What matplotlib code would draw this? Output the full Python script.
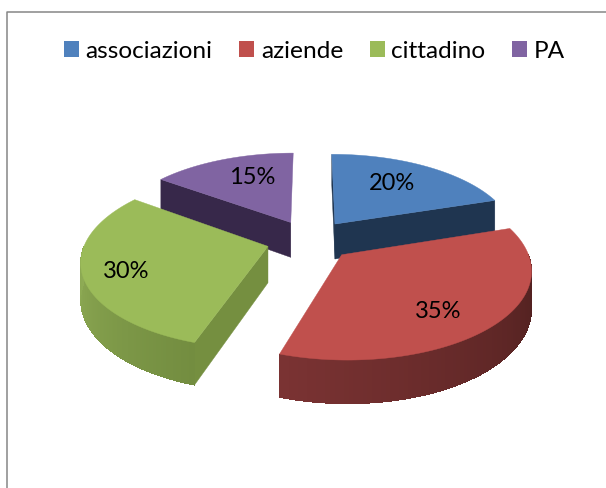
import numpy as np
import matplotlib
matplotlib.use("Agg")
import matplotlib.pyplot as plt
from matplotlib.patches import Patch
from matplotlib.colors import to_rgb

categorie = ["associazioni", "aziende", "cittadino", "PA"]
valori = [20, 35, 30, 15]
etichette = ["20%", "35%", "30%", "15%"]

col_top = ["#4f81bd", "#c0504d", "#9bbb59", "#8064a2"]
col_cut = ["#1f3550", "#4e1f1e", "#758f40", "#37284a"]
col_side_a = ["#1f3550", "#4d1f1e", "#738d40", "#37284a"]  # inizio fetta
col_side_b = ["#1f3550", "#7b3333", "#8fac55", "#37284a"]  # fine fetta
cut_start = [True, False, True, True]
cut_end = [True, False, False, False]
pos_label = [(392, 183), (438, 312), (126, 272), (252, 178)]

# parametri della vista 3d (pixel)
XC, YC = 310, 241
R = 182
K = 0.465
P = 0.15
EXPL = 0.24
H = 36


def proj(x, y, z=0.0):
    s = 1 / (1 - P * y)
    return XC + R * x * s, YC + K * R * y * s + H * z * s


def punto(ang, off, r=1.0):
    # angolo in gradi, orario dalle 12
    a = np.radians(ang)
    return off[0] + r * np.sin(a), off[1] - r * np.cos(a)


fig = plt.figure(figsize=(6.06, 4.89), dpi=100)
ax = fig.add_axes([0, 0, 1, 1])
ax.set_xlim(0, 606)
ax.set_ylim(489, 0)
ax.axis("off")

ax.plot([7, 7, 606], [489, 12.5, 12.5], color="#868686", lw=1.1)

totale = sum(valori)
bordi = np.cumsum([0] + valori) / totale * 360
fette = []
for i in range(len(valori)):
    a0, a1 = bordi[i], bordi[i + 1]
    mid = np.radians((a0 + a1) / 2)
    off = (EXPL * np.sin(mid), -EXPL * np.cos(mid))
    fette.append((i, a0, a1, off))

# dal fondo verso chi guarda
for i, a0, a1, off in [fette[3], fette[0], fette[2], fette[1]]:
    # facce di taglio
    for ang, vis in [(a0, cut_start[i]), (a1, cut_end[i])]:
        if vis:
            xe, ye = punto(ang, off)
            p = [proj(off[0], off[1]), proj(xe, ye), proj(xe, ye, 1), proj(off[0], off[1], 1)]
            ax.fill(*zip(*p), color=col_cut[i], lw=0.3)

    # lato esterno a sfumatura, solo la parte davanti
    b0, b1 = max(a0, 90), min(a1, 270)
    if b1 > b0:
        angs = np.linspace(b0, b1, 90)
        ca, cb = np.array(to_rgb(col_side_a[i])), np.array(to_rgb(col_side_b[i]))
        for j in range(len(angs) - 2):
            t = (angs[j] - b0) / (b1 - b0)
            xa, ya = punto(angs[j], off)
            xb, yb = punto(angs[j + 2], off)  # si sovrappone al pezzo dopo
            p = [proj(xa, ya), proj(xb, yb), proj(xb, yb, 1), proj(xa, ya, 1)]
            ax.fill(*zip(*p), facecolor=ca + (cb - ca) * t, edgecolor="none", antialiased=False)

    # faccia sopra
    angs = np.linspace(a0, a1, 120)
    pts = [proj(off[0], off[1])] + [proj(*punto(a, off)) for a in angs]
    ax.fill(*zip(*pts), color=col_top[i], lw=0.3)

for lab, (lx, ly) in zip(etichette, pos_label):
    ax.text(lx, ly, lab, fontsize=17, family="Lato", color="black", ha="center", va="center", zorder=5)

handles = [Patch(facecolor=c, edgecolor="none", label=n) for c, n in zip(col_top, categorie)]
ax.legend(handles=handles, ncol=4, frameon=False, loc="center", bbox_to_anchor=(314.5 / 606, 1 - 52 / 489),
          prop={"family": "Lato", "size": 17.6}, handlelength=0.6, handleheight=0.6, handletextpad=0.28,
          columnspacing=1.09, borderpad=0, borderaxespad=0)

fig.savefig("out.png", dpi=100)
